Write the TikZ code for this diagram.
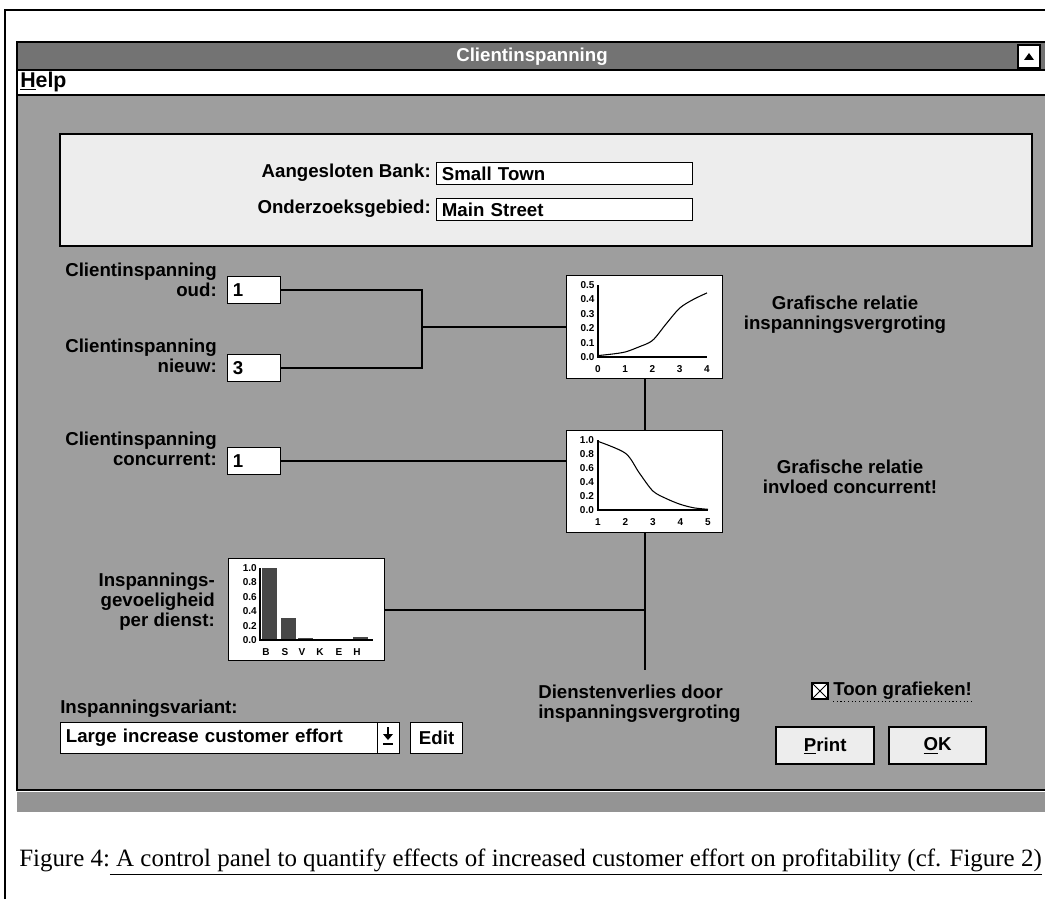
\documentclass[tikz,border=0pt]{standalone}
\usepackage{fontspec}
\setmainfont{Liberation Serif}
\newfontfamily\uifont{Liberation Sans}
\definecolor{dither}{gray}{0.62}
\definecolor{titlegray}{gray}{0.45}
\definecolor{panelgray}{gray}{0.93}
\definecolor{stripgray}{gray}{0.58}
\tikzset{
 ui/.style={font=\uifont\bfseries\fontsize{14}{15}\selectfont},
 lbl/.style={ui, inner sep=0pt, align=right},
 field/.style={ui, draw=black, fill=white, line width=0.9pt, anchor=north west, inner xsep=4pt, inner ysep=0pt, align=left},
 chartbox/.style={draw=black, fill=white, line width=1pt, anchor=north west, inner sep=0pt},
 btn/.style={ui, draw=black, fill=panelgray, line width=1.8pt, anchor=north west, inner sep=0pt, align=center},
 conn/.style={draw=black, line width=1.3pt},
 tick/.style={font=\uifont\bfseries\fontsize{7.5}{8}\selectfont, inner sep=0pt},
 curve/.style={draw=black, line width=0.8pt},
 axis/.style={draw=black, line width=0.9pt},
}
\begin{document}
\begin{tikzpicture}[x=0.75pt, y=-0.75pt]
\useasboundingbox (0,0) rectangle (1045,899);
\fill[white] (0,0) rectangle (1045,899);
% page frame
\draw[line width=0.8pt] (5,899) -- (5,10) -- (1045,10);
% window
\fill[titlegray] (17,43) rectangle (1045,70);
\fill[white] (17,70) rectangle (1045,95);
\fill[dither] (17,95) rectangle (1045,789);
\fill[stripgray] (17,792) rectangle (1045,812);
\draw[line width=0.9pt] (17,70) -- (1045,70) (17,95) -- (1045,95);
\draw[line width=2.2pt] (1050,42) -- (17,42) -- (17,790) -- (1050,790);
\node[ui, text=white] (title) at (532,57) {Clientinspanning};
\node[draw=black, fill=white, line width=0.8pt, minimum width=16.5pt, minimum height=17.25pt, inner sep=0pt] (upbtn) at (1029,56.5) {};
\fill (1024,60) -- (1034,60) -- (1029,53) -- cycle;
\node[anchor=west, inner sep=0pt, font=\uifont\bfseries\fontsize{16}{17}\selectfont] (help) at (20,82) {\underline{H}elp};
% top panel
\draw[fill=panelgray, line width=1.2pt] (60,134) rectangle (1032,246);
\node[lbl, anchor=east] (bankl) at (431,173) {Aangesloten Bank:};
\node[field, minimum width=192pt, minimum height=16.5pt, text width=184pt] (bank) at (436,162) {Small Town};
\node[lbl, anchor=east] (gebl) at (431,209) {Onderzoeksgebied:};
\node[field, minimum width=192pt, minimum height=16.5pt, text width=184pt] (gebied) at (436,198) {Main Street};
% inputs
\node[lbl, anchor=east] (oudl) at (217,280) {Clientinspanning\\oud:};
\node[field, minimum width=39.75pt, minimum height=20.25pt, text width=31.75pt] (oud) at (227,276) {1};
\node[lbl, anchor=east] (nieuwl) at (217,356) {Clientinspanning\\nieuw:};
\node[field, minimum width=39.75pt, minimum height=20.25pt, text width=31.75pt] (nieuw) at (227,354) {3};
\node[lbl, anchor=east] (concl) at (217,449) {Clientinspanning\\concurrent:};
\node[field, minimum width=39.75pt, minimum height=20.25pt, text width=31.75pt] (conc) at (227,447) {1};
\node[lbl, anchor=east] (insl) at (215,602) {Inspannings-\\gevoeligheid\\per dienst:};
% charts
\node[chartbox, minimum width=117pt, minimum height=77.25pt] (chart1) at (566,275) {};
\node[chartbox, minimum width=117pt, minimum height=76.5pt] (chart2) at (566,430) {};
\node[chartbox, minimum width=117pt, minimum height=76.5pt] (bars) at (228,558) {};
\node[lbl, align=center] (g1) at (845,315) {Grafische relatie\\inspanningsvergroting};
\node[lbl, align=center] (g2) at (850,477) {Grafische relatie\\invloed concurrent!};
% connectors
\coordinate (j1) at (422,327);
\coordinate (dend) at (644,670);
\draw[conn] (oud.east) -| (j1) |- (nieuw.east);
\draw[conn] (j1) -- (j1 -| chart1.west);
\draw[conn] (chart1.south) -- (chart2.north);
\draw[conn] (conc.east) -- (conc.east -| chart2.west);
\draw[conn] (chart2.south) -- (chart2.south |- dend);
\draw[conn] (bars.east) -- (bars.east -| chart2.south);
% chart 1
\begin{scope}[shift={(598,357)}, x=20.4375pt, y=108pt]
\draw[axis] (0,0.5) -- (0,0) -- (4,0);
\foreach \v in {0.0,0.1,0.2,0.3,0.4,0.5} {\node[tick, anchor=east] at (-0.12,\v) {\v};}
\foreach \v in {0,1,2,3,4} {\node[tick] at (\v,-0.085) {\v};}
\draw[curve] plot[smooth] coordinates {(0,0.01) (0.5,0.02) (1,0.035) (1.5,0.07) (2,0.115) (2.5,0.23) (3,0.34) (3.5,0.40) (4,0.445)};
\end{scope}
% chart 2
\begin{scope}[shift={(570.5,510)}, x=20.625pt, y=52.5pt]
\draw[axis] (1,1.0) -- (1,0) -- (5,0);
\foreach \v in {0.0,0.2,0.4,0.6,0.8,1.0} {\node[tick, anchor=east] at (0.86,\v) {\v};}
\foreach \v in {1,2,3,4,5} {\node[tick] at (\v,-0.17) {\v};}
\draw[curve] plot[smooth] coordinates {(1,0.98) (2,0.81) (2.5,0.53) (3,0.27) (3.5,0.16) (4,0.08) (4.5,0.03) (5,0.01)};
\end{scope}
% bar chart
\begin{scope}[shift={(260,640)}, x=0.75pt, y=54pt]
\fill[black!72] (2,0) rectangle (17,1.0);
\fill[black!72] (21,0) rectangle (36,0.3);
\fill[black!72] (38,0) rectangle (53,0.03);
\fill[black!72] (55,0) rectangle (70,0.015);
\fill[black!72] (73,0) rectangle (88,0.015);
\fill[black!72] (93,0) rectangle (108,0.035);
\draw[axis] (0,1.0) -- (0,0) -- (113,0);
\foreach \v in {0.0,0.2,0.4,0.6,0.8,1.0} {\node[tick, anchor=east] at (-3,\v) {\v};}
\foreach \c/\x in {B/6,S/25,V/42,K/60,E/79,H/97} {\node[tick] at (\x,-0.17) {\c};}
\end{scope}
% bottom controls
\node[lbl, anchor=west] (varl) at (60,709) {Inspanningsvariant:};
\node[field, minimum width=237.75pt, minimum height=23.25pt, text width=229.75pt] (combo) at (60,722) {Large increase customer effort};
\node[field, minimum width=16.5pt, minimum height=23.25pt, inner xsep=0pt] (drop) at (377,722) {};
\fill (383,734) -- (393,734) -- (388,740) -- cycle;
\draw[line width=2pt] (388,727) -- (388,735);
\draw[line width=1.2pt] (383,744) -- (393,744);
\node[field, minimum width=39pt, minimum height=23.25pt, inner xsep=0pt, align=center] (edit) at (410,722) {Edit};
\node[lbl, anchor=west, align=left] (dienst) at (538,704) {Dienstenverlies door\\inspanningsvergroting};
\node[draw=black, fill=white, minimum size=12pt, inner sep=0pt, line width=0.8pt] (chk) at (820,691) {};
\draw[line width=0.7pt] (chk.north west) -- (chk.south east) (chk.north east) -- (chk.south west);
\node[lbl, anchor=west] (toon) at (833,691) {Toon grafieken!};
\draw[dotted, line width=0.8pt] ([yshift=-1pt]toon.south west) -- ([yshift=-1pt]toon.south east);
\node[btn, minimum width=73.5pt, minimum height=27.75pt] (print) at (775,726) {\underline{P}rint};
\node[btn, minimum width=72.75pt, minimum height=27.75pt] (ok) at (888,726) {\underline{O}K};
% caption
\node[anchor=west, inner sep=0pt, font=\fontsize{18.7}{20}\selectfont] (cap) at (19,862) {Figure 4:\underline{ A control panel to quantify effects of increased customer effort on profitability (cf. Figure 2)}};
\end{tikzpicture}
\end{document}
